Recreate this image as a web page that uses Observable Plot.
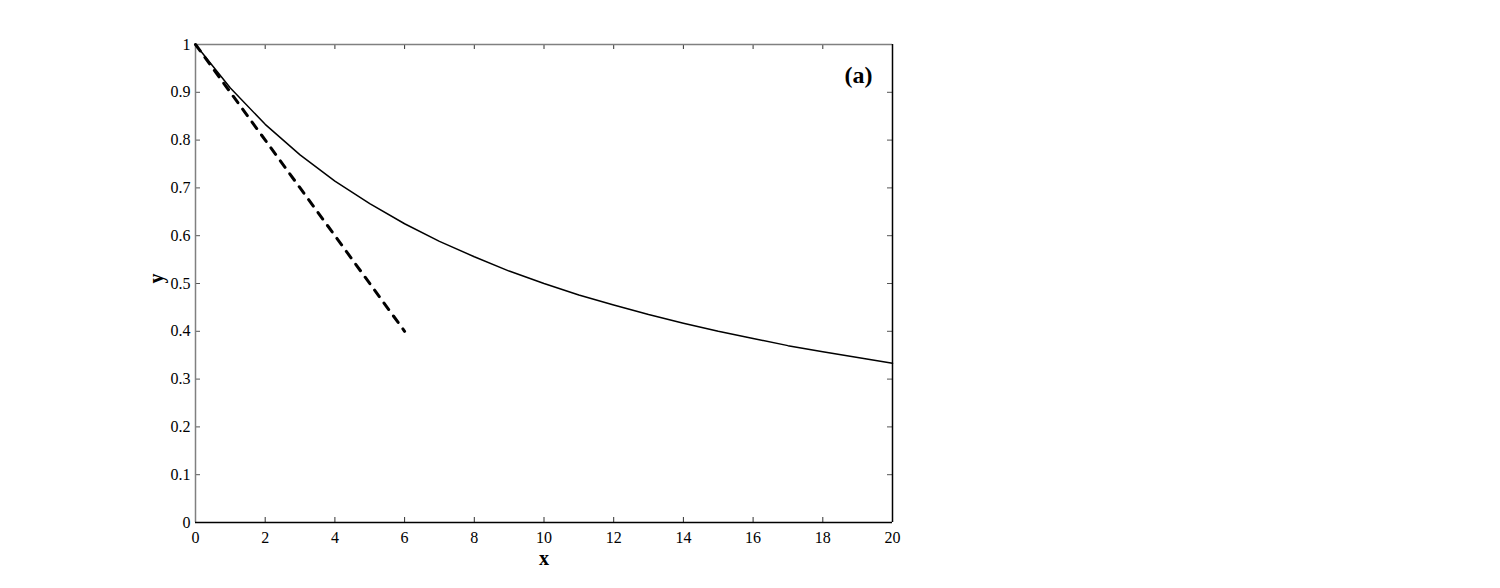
<!DOCTYPE html>
<html>
<head>
<meta charset="utf-8">
<script src="https://cdn.jsdelivr.net/npm/d3@7"></script>
<script src="https://cdn.jsdelivr.net/npm/@observablehq/plot@0.6"></script>
<style>
  html, body { margin: 0; padding: 0; background: #fff; }
  #chart svg { display: block; }
</style>
</head>
<body>
<div id="chart"></div>
<script>
// Solid curve (read at integer x)
const curveX = [0, 1, 2, 3, 4, 5, 6, 7, 8, 9, 10, 11, 12, 13, 14, 15, 16, 17, 18, 19, 20];
const curveY = [1.0, 0.909, 0.833, 0.769, 0.714, 0.667, 0.625, 0.588, 0.556, 0.526, 0.5,
                0.476, 0.455, 0.435, 0.417, 0.4, 0.385, 0.370, 0.357, 0.345, 0.333];
// Dashed line
const dashX = [0, 6];
const dashY = [1.0, 0.4];
// Ticks
const xTicks = [0, 2, 4, 6, 8, 10, 12, 14, 16, 18, 20];
const yTicks = [0, 0.1, 0.2, 0.3, 0.4, 0.5, 0.6, 0.7, 0.8, 0.9, 1];
const panelLabel = ["(a)"];
const xLabel = ["x"];
const yLabel = ["y"];

const curve = curveX.map((x, i) => ({x, y: curveY[i]}));
const dash = dashX.map((x, i) => ({x, y: dashY[i]}));

const font = "'Liberation Serif', 'Times New Roman', serif";

const chart = Plot.plot({
  width: 1500,
  height: 588,
  marginLeft: 195,
  marginRight: 608,
  marginTop: 44,
  marginBottom: 66,
  style: {fontFamily: font, fontSize: "16px", color: "#000", background: "#fff"},
  x: {domain: [0, 20]},
  y: {domain: [0, 1]},
  marks: [
    Plot.axisX(xTicks, {tickSize: 0, tickPadding: 9, tickFormat: d => String(d), label: null, fontSize: 16}),
    Plot.axisY(yTicks, {tickSize: 0, tickPadding: 5, tickFormat: d => String(d), label: null, fontSize: 16}),
    // inward ticks
    Plot.ruleX(xTicks, {x: d => d, y1: 0, y2: 0, insetBottom: 5, stroke: "#333", strokeWidth: 1}),
    Plot.ruleX(xTicks, {x: d => d, y1: 1, y2: 1, insetTop: 5, stroke: "#333", strokeWidth: 1}),
    Plot.ruleY(yTicks, {y: d => d, x1: 0, x2: 0, insetRight: -5, stroke: "#555", strokeWidth: 1}),
    Plot.ruleY(yTicks, {y: d => d, x1: 20, x2: 20, insetLeft: -5, stroke: "#555", strokeWidth: 1}),
    // frame
    Plot.ruleX([0], {stroke: "#808080", strokeWidth: 1.5}),
    Plot.ruleY([1], {stroke: "#808080", strokeWidth: 1.5}),
    Plot.ruleY([0], {stroke: "#000", strokeWidth: 1.5}),
    Plot.ruleX([20], {stroke: "#000", strokeWidth: 1.5}),
    // data
    Plot.line(dash, {x: "x", y: "y", stroke: "#000", strokeWidth: 3, strokeDasharray: "8,8"}),
    Plot.line(curve, {x: "x", y: "y", stroke: "#000", strokeWidth: 1.5}),
    // texts
    Plot.text(panelLabel, {frameAnchor: "top-right", textAnchor: "end", lineAnchor: "middle", dx: -20, dy: 31, fontSize: 24, fontWeight: "bold", fill: "#000"}),
    Plot.text(xLabel, {frameAnchor: "bottom", lineAnchor: "middle", dy: 36, fontSize: 20, fontWeight: "bold", fill: "#000"}),
    Plot.text(yLabel, {frameAnchor: "left", lineAnchor: "middle", dx: -39, rotate: -90, fontSize: 20, fontWeight: "bold", fill: "#000"})
  ]
});
document.getElementById("chart").appendChild(chart);
</script>
</body>
</html>
